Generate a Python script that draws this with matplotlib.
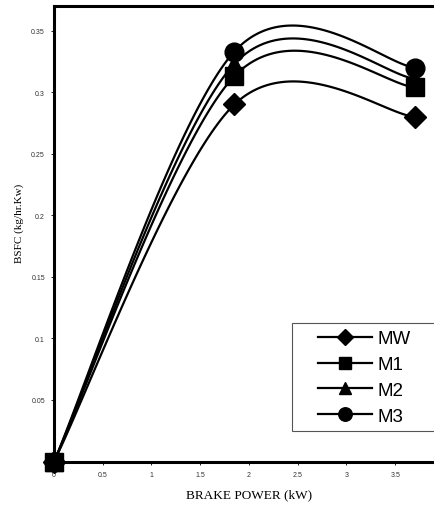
import numpy as np
import matplotlib
matplotlib.use("Agg")
import matplotlib.pyplot as plt
from matplotlib.patches import Rectangle

power = [0.0, 1.85, 3.7]
series_names = ["MW", "M1", "M2", "M3"]
mw = [0.0, 0.290, 0.280]
m1 = [0.0, 0.313, 0.304]
m2 = [0.0, 0.323, 0.311]
m3 = [0.0, 0.333, 0.320]
xticks = [0, 0.5, 1, 1.5, 2, 2.5, 3, 3.5]
xtick_labels = ["0", "0.5", "1", "1.5", "2", "2.5", "3", "3.5"]
yticks = [0.05, 0.1, 0.15, 0.2, 0.25, 0.3, 0.35]
ytick_labels = ["0.05", "0.1", "0.15", "0.2", "0.25", "0.3", "0.35"]

markers = ["D", "s", "^", "o"]
msizes = [11, 12.5, 12.5, 13.5]
mzorders = [5, 8, 5, 5]


def excel_smooth(x, y, n=60):
    """Excel-style smoothed line: cubic Bezier with Catmull-Rom control points."""
    x = np.asarray(x, float)
    y = np.asarray(y, float)
    px = np.concatenate([[x[0]], x, [x[-1]]])
    py = np.concatenate([[y[0]], y, [y[-1]]])
    xs, ys = [], []
    t = np.linspace(0, 1, n)
    for i in range(1, len(px) - 2):
        p0 = np.array([px[i], py[i]])
        p3 = np.array([px[i + 1], py[i + 1]])
        c1 = p0 + (np.array([px[i + 1], py[i + 1]]) - np.array([px[i - 1], py[i - 1]])) / 6
        c2 = p3 - (np.array([px[i + 2], py[i + 2]]) - np.array([px[i], py[i]])) / 6
        b = ((1 - t) ** 3)[:, None] * p0 + (3 * (1 - t) ** 2 * t)[:, None] * c1 \
            + (3 * (1 - t) * t ** 2)[:, None] * c2 + (t ** 3)[:, None] * p3
        xs.append(b[:, 0])
        ys.append(b[:, 1])
    return np.concatenate(xs), np.concatenate(ys)


fig = plt.figure(figsize=(4.35, 5.06), dpi=100)
L, B = 54 / 435, (506 - 462.5) / 506
W = (444 - 54) / 435
H = (462.5 - 7) / 506
ax = fig.add_axes([L, B, W, H])

for name, vals, mk, ms, zo in zip(series_names, [mw, m1, m2, m3], markers, msizes, mzorders):
    sx, sy = excel_smooth(power, vals)
    ax.plot(sx, sy, color="black", lw=1.6, zorder=2)
    ax.plot(power, vals, linestyle="none", marker=mk, ms=ms, color="black",
            zorder=zo, clip_on=False)
    ax.plot([], [], color="black", lw=1.6, marker=mk, ms=ms, label=name)

ax.set_xlim(0, 4)
ax.set_ylim(0, 0.37)
ax.set_xticks(xticks)
ax.set_xticklabels(xtick_labels)
ax.set_yticks(yticks)
ax.set_yticklabels(ytick_labels)
ax.tick_params(axis="both", labelsize=5, length=2.5, width=0.6, colors="black",
               labelcolor="#333333", pad=4)
for s in ["left", "bottom", "top", "right"]:
    ax.spines[s].set_linewidth(2.2)

ax.set_xlabel("BRAKE POWER (kW)", family="Liberation Serif", fontsize=9.5, labelpad=8)
ax.set_ylabel("BSFC (kg/hr.Kw)", family="Liberation Serif", fontsize=8)
ax.yaxis.set_label_coords((24 - 54) / 390, (462.5 - 223) / 455.5)
for lab in ax.get_xticklabels() + ax.get_yticklabels():
    lab.set_family("Liberation Sans")

# legend frame (extends past the right edge, as in the reference)
ax.add_patch(Rectangle(((292 - 54) / 390, (462.5 - 432) / 455.5),
                       (445 - 292) / 390, (432 - 324) / 455.5,
                       transform=ax.transAxes, facecolor="white", edgecolor="#555555",
                       lw=0.8, zorder=9, clip_on=False))
leg = ax.legend(loc="upper left", bbox_to_anchor=((318 - 54) / 390, (462.5 - 331) / 455.5),
                prop={"family": "Liberation Sans", "size": 13.5}, frameon=False,
                handlelength=2.9, handletextpad=0.25, labelspacing=0.47,
                borderpad=0, borderaxespad=0, markerscale=0.72)
leg.set_zorder(10)

fig.savefig("out.png", dpi=100)
